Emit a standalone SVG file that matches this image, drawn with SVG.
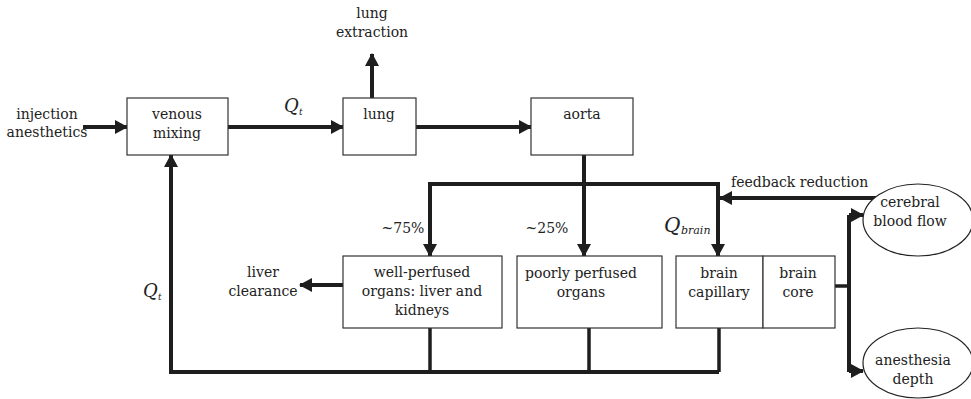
<svg xmlns="http://www.w3.org/2000/svg" width="971" height="399" viewBox="0 0 971 399">
<style>
text{font-family:"DejaVu Serif","Liberation Serif",serif;font-size:14px;fill:#222;}
.c{text-anchor:middle;}
.i{font-style:italic;}
.box{fill:#fff;stroke:#333;stroke-width:1.2;}
.ell{fill:#fff;stroke:#222;stroke-width:1.2;}
.ln{fill:none;stroke:#1e1e1e;stroke-width:4;}
.ar{fill:none;stroke:#1e1e1e;stroke-width:4;marker-end:url(#ah);}
.th{fill:none;stroke:#1e1e1e;stroke-width:3.5;}
</style>
<defs>
<marker id="ah" markerUnits="userSpaceOnUse" markerWidth="13" markerHeight="14" refX="12" refY="7" orient="auto" viewBox="0 0 13 14">
<path d="M0,0 L13,7 L0,14 z" fill="#1e1e1e"/>
</marker>
</defs>
<rect width="971" height="399" fill="#fff"/>
<g id="connectors">
<line class="ar" x1="83" y1="127" x2="127" y2="127"/>
<line class="ar" x1="228" y1="127" x2="343" y2="127"/>
<line class="ar" x1="372" y1="98" x2="372" y2="54"/>
<line class="ar" x1="416" y1="127" x2="531" y2="127"/>
<line class="ar" x1="584" y1="155" x2="584" y2="256"/>
<path class="ar" d="M584,184 H430 V256"/>
<path class="ar" d="M584,184 H718 V256"/>
<line class="ar" x1="877" y1="198" x2="720" y2="198"/>
<line class="ar" x1="343" y1="285" x2="300" y2="285"/>
<line class="th" x1="430" y1="328" x2="430" y2="372"/>
<line class="th" x1="589" y1="328" x2="589" y2="372"/>
<line class="th" x1="719" y1="328" x2="719" y2="372"/>
<path class="ar" d="M719,372 H171 V155"/>
<line class="th" x1="835" y1="286" x2="849" y2="286"/>
<path class="ln" d="M849,215 V372"/>
<line class="ar" x1="849" y1="215" x2="863" y2="215"/>
<line class="ar" x1="849" y1="371" x2="863" y2="371"/>
</g>
<g id="labels">
<text class="c" x="372" y="18">lung</text>
<text class="c" x="372" y="37">extraction</text>
<text class="c" x="47" y="119">injection</text>
<text class="c" x="47" y="137">anesthetics</text>
<text class="i" x="284" y="112" style="font-size:18px">Q</text>
<text class="i" x="299" y="115" style="font-size:9px">t</text>
<text class="c" x="403" y="233">~75%</text>
<text class="c" x="547" y="233">~25%</text>
<text class="c" x="263" y="277">liver</text>
<text class="c" x="263" y="296">clearance</text>
<text class="i" x="143" y="297" style="font-size:18px">Q</text>
<text class="i" x="158" y="300" style="font-size:9px">t</text>
<text class="i" x="664" y="232" style="font-size:20px">Q</text>
<text class="i" x="681" y="234" style="font-size:11px">brain</text>
<text x="731" y="187">feedback reduction</text>
</g>
<g id="venous-mixing">
<rect class="box" x="127" y="98" width="101" height="57"/>
<text class="c" x="177" y="119">venous</text>
<text class="c" x="177" y="138">mixing</text>
</g>
<g id="lung">
<rect class="box" x="343" y="98" width="73" height="57"/>
<text class="c" x="379" y="119">lung</text>
</g>
<g id="aorta">
<rect class="box" x="531" y="98" width="102" height="57"/>
<text class="c" x="582" y="119">aorta</text>
</g>
<g id="well-perfused">
<rect class="box" x="343" y="256" width="159" height="72"/>
<text class="c" x="422" y="277">well-perfused</text>
<text class="c" x="422" y="296">organs: liver and</text>
<text class="c" x="422" y="315">kidneys</text>
</g>
<g id="poorly-perfused">
<rect class="box" x="517" y="256" width="145" height="72"/>
<text class="c" x="581" y="278">poorly perfused</text>
<text class="c" x="581" y="297">organs</text>
</g>
<g id="brain-capillary">
<rect class="box" x="676" y="256" width="87" height="72"/>
<text class="c" x="719" y="278">brain</text>
<text class="c" x="719" y="297">capillary</text>
</g>
<g id="brain-core">
<rect class="box" x="763" y="256" width="72" height="72"/>
<text class="c" x="798" y="278">brain</text>
<text class="c" x="798" y="297">core</text>
</g>
<g id="cerebral-blood-flow">
<ellipse class="ell" cx="918" cy="220" rx="55" ry="36"/>
<text class="c" x="910" y="207">cerebral</text>
<text class="c" x="910" y="226">blood flow</text>
</g>
<g id="anesthesia-depth">
<ellipse class="ell" cx="918" cy="363" rx="55" ry="35"/>
<text class="c" x="913" y="365">anesthesia</text>
<text class="c" x="913" y="384">depth</text>
</g>
</svg>
